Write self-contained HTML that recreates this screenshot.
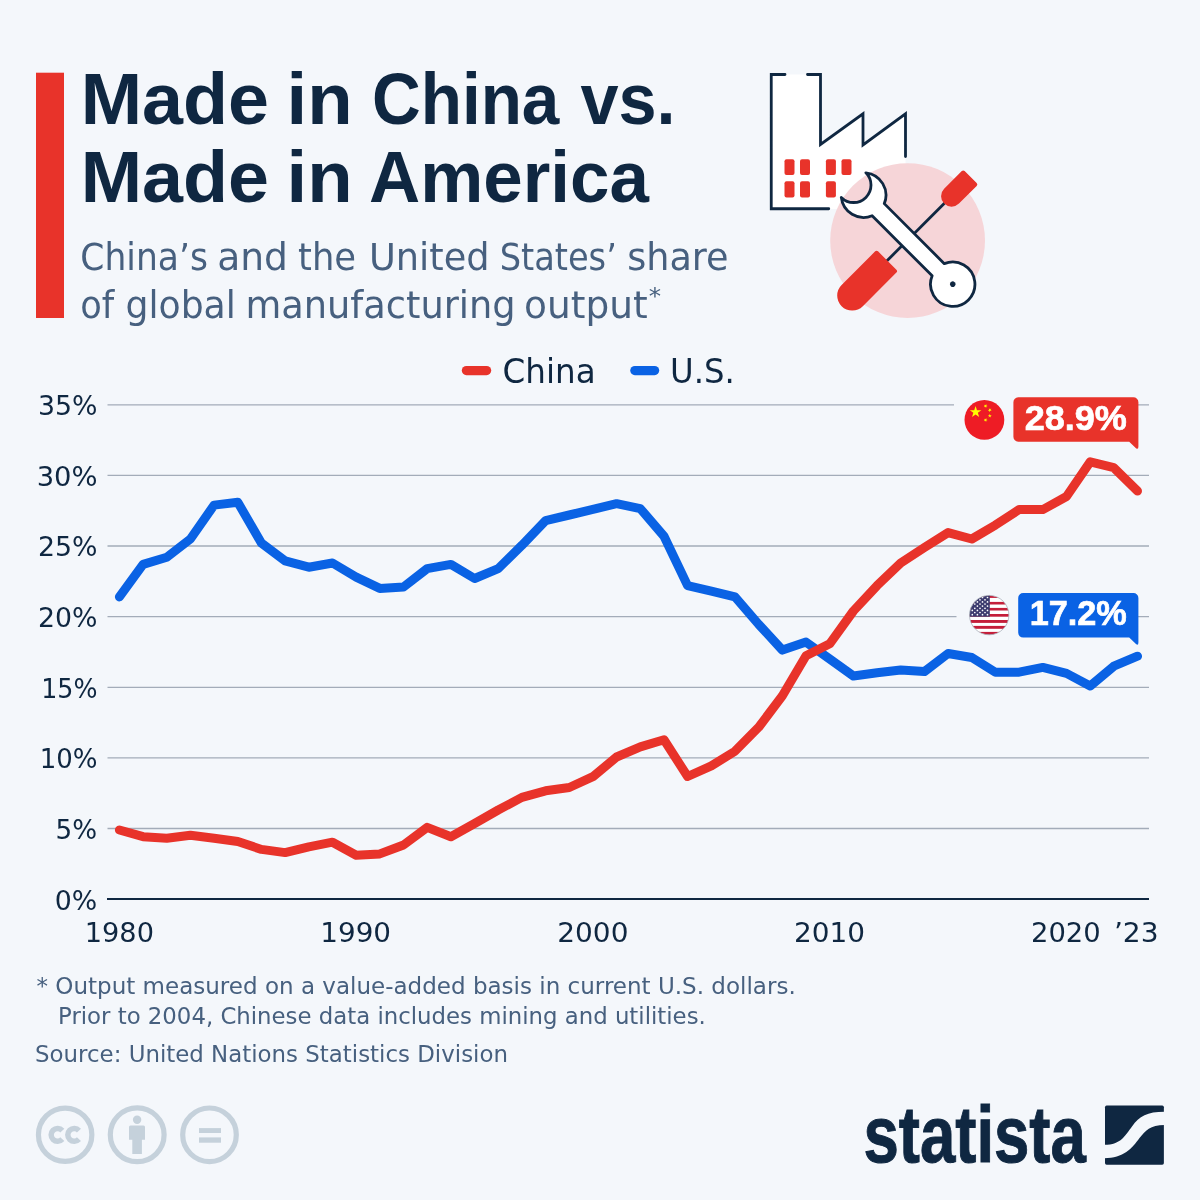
<!DOCTYPE html>
<html lang="en">
<head>
<meta charset="utf-8">
<title>Made in China vs. Made in America</title>
<style>
html,body{margin:0;padding:0;background:#f4f7fb;}
svg{display:block;font-family:"Liberation Sans", sans-serif;}
</style>
</head>
<body>
<svg width="1200" height="1200" viewBox="0 0 1200 1200">
<rect width="1200" height="1200" fill="#f4f7fb"/>
<rect x="36" y="72.7" width="28" height="245.3" fill="#e8332a"/>
<g stroke="#a3acb9" stroke-width="1.3" fill="none">
<path d="M107.5,404.8H954M1138,404.8H1149"/>
<path d="M107.5,475.4H1149"/>
<path d="M107.5,546.0H1149"/>
<path d="M107.5,616.7H956.5M1138,616.7H1149"/>
<path d="M107.5,687.3H1149"/>
<path d="M107.5,757.9H1149"/>
<path d="M107.5,828.5H1149"/>
</g>
<path d="M107,899.1H1149" stroke="#0f2741" stroke-width="2" fill="none"/>
<path d="M466.4,370.6h20.2" stroke="#e8332a" stroke-width="9.2" stroke-linecap="round"/>
<path d="M634.8,370.6h19.8" stroke="#0a62e4" stroke-width="9.2" stroke-linecap="round"/>
<path d="M119.4,596.9 L143.1,564.4 L166.8,557.3 L190.4,539.0 L214.1,505.1 L237.8,502.3 L261.5,543.2 L285.1,560.9 L308.8,567.2 L332.5,563.0 L356.2,577.1 L379.8,588.4 L403.5,587.0 L427.2,568.6 L450.9,564.4 L474.6,578.5 L498.2,568.6 L521.9,545.3 L545.6,520.6 L569.3,515.0 L592.9,509.3 L616.6,503.7 L640.3,508.6 L664.0,536.2 L687.6,585.6 L711.3,591.2 L735.0,596.9 L758.7,624.4 L782.4,650.1 L806.0,642.1 L829.7,659.0 L853.4,676.0 L877.1,672.7 L900.7,670.0 L924.4,671.6 L948.1,653.5 L971.8,657.5 L995.4,672.2 L1019.1,672.2 L1042.8,667.4 L1066.5,673.4 L1090.2,686.0 L1113.8,666.2 L1137.5,656.2" fill="none" stroke="#0a62e4" stroke-width="9" stroke-linecap="round" stroke-linejoin="round"/>
<path d="M119.4,830.0 L143.1,836.7 L166.8,838.2 L190.4,835.3 L214.1,838.2 L237.8,841.5 L261.5,849.4 L285.1,852.6 L308.8,846.8 L332.5,842.2 L356.2,855.3 L379.8,853.9 L403.5,845.0 L427.2,827.4 L450.9,836.7 L474.6,823.5 L498.2,810.0 L521.9,797.4 L545.6,790.8 L569.3,787.5 L592.9,776.7 L616.6,757.0 L640.3,746.9 L664.0,739.8 L687.6,776.5 L711.3,765.9 L735.0,751.2 L758.7,727.2 L782.4,695.7 L806.0,655.8 L829.7,643.8 L853.4,611.0 L877.1,585.6 L900.7,563.0 L924.4,547.6 L948.1,532.6 L971.8,539.0 L995.4,525.1 L1019.1,509.6 L1042.8,509.6 L1066.5,496.5 L1090.2,461.9 L1113.8,467.7 L1137.5,491.0" fill="none" stroke="#e8332a" stroke-width="9" stroke-linecap="round" stroke-linejoin="round"/>
<!-- header illustration: factory, tools -->
<g>
<path d="M771.25,74.5H820.5V144.5L863,113.75V145L905.5,113.75V209H771.25z" fill="#ffffff"/>
<circle cx="907.6" cy="240.6" r="77.4" fill="#f6d5d8"/>
<path d="M785,74.5H771.25V208.75H828.75M807.5,74.5H820.5V144.5L863,113.75V145L905.5,113.75V156.5" fill="none" stroke="#0f2741" stroke-width="2.8" stroke-linecap="round" stroke-linejoin="miter"/>
<g fill="#e8332a">
<rect x="784.5" y="159.3" width="10" height="15.6" rx="2"/><rect x="800" y="159.3" width="10" height="15.6" rx="2"/><rect x="825.9" y="159.3" width="10" height="15.6" rx="2"/><rect x="841.5" y="159.3" width="10" height="15.6" rx="2"/>
<rect x="784.5" y="181.2" width="10" height="16.2" rx="2"/><rect x="800" y="181.2" width="10" height="16.2" rx="2"/><rect x="825.9" y="181.2" width="10" height="16.2" rx="2"/>
</g>
<g transform="translate(841.6,306.15) rotate(-45)">
<path d="M60,0H150" stroke="#0f2741" stroke-width="2.8" fill="none"/>
<path d="M15,-15H62.5a2,2 0 0 1 2,2V13a2,2 0 0 1 -2,2H15a15,15 0 0 1 0,-30z" fill="#e8332a"/>
<path d="M155.5,-10.5H180.5a2,2 0 0 1 2,2V8.5a2,2 0 0 1 -2,2H155.5a10.5,10.5 0 0 1 0,-21z" fill="#e8332a"/>
</g>
<g transform="translate(863.5,195) rotate(45)">
<path d="M-14,-17.4A22.5,22.5 0 0 1 20.8,-8.6L105.7,-8.6A22.2,22.2 0 1 1 105.7,8.6L20.8,8.6A22.5,22.5 0 0 1 -14,17.4A17,17 0 0 0 -14,-17.4z" fill="#ffffff" stroke="#0f2741" stroke-width="2.8" stroke-linejoin="round"/>
<circle cx="126.2" cy="0" r="2.7" fill="#0f2741"/>
</g>
</g>
<!-- callouts -->
<path d="M1018.4,397.2H1133.4a5,5 0 0 1 5,5V446.6Q1138.4,450 1136,448.2L1129.2,441.7H1018.4a5,5 0 0 1 -5,-5V402.2a5,5 0 0 1 5,-5z" fill="#e8332a"/>
<path d="M1023.2,593H1133.4a5,5 0 0 1 5,5V642.5Q1138.4,645.9 1136,644.1L1129.2,637.6H1023.2a5,5 0 0 1 -5,-5V598a5,5 0 0 1 5,-5z" fill="#0a62e4"/>
<!-- flag: China -->
<g>
<circle cx="984.4" cy="419.85" r="19.9" fill="#ee1c25"/>
<g fill="#ffff00">
<path id="st" transform="translate(975.6,412.1) scale(6.1)" d="M0,-1L0.2245,-0.309L0.9511,-0.309L0.3633,0.118L0.5878,0.809L0,0.382L-0.5878,0.809L-0.3633,0.118L-0.9511,-0.309L-0.2245,-0.309z"/>
<path transform="translate(985.6,406) scale(2.1) rotate(20)" d="M0,-1L0.2245,-0.309L0.9511,-0.309L0.3633,0.118L0.5878,0.809L0,0.382L-0.5878,0.809L-0.3633,0.118L-0.9511,-0.309L-0.2245,-0.309z"/>
<path transform="translate(989.8,410.1) scale(2.1) rotate(45)" d="M0,-1L0.2245,-0.309L0.9511,-0.309L0.3633,0.118L0.5878,0.809L0,0.382L-0.5878,0.809L-0.3633,0.118L-0.9511,-0.309L-0.2245,-0.309z"/>
<path transform="translate(989.8,415.8) scale(2.1) rotate(0)" d="M0,-1L0.2245,-0.309L0.9511,-0.309L0.3633,0.118L0.5878,0.809L0,0.382L-0.5878,0.809L-0.3633,0.118L-0.9511,-0.309L-0.2245,-0.309z"/>
<path transform="translate(985.6,420) scale(2.1) rotate(20)" d="M0,-1L0.2245,-0.309L0.9511,-0.309L0.3633,0.118L0.5878,0.809L0,0.382L-0.5878,0.809L-0.3633,0.118L-0.9511,-0.309L-0.2245,-0.309z"/>
</g>
</g>
<!-- flag: U.S. -->
<g>
<clipPath id="usc"><circle cx="989.2" cy="615.1" r="19.7"/></clipPath>
<g clip-path="url(#usc)">
<rect x="968" y="594" width="43" height="43" fill="#ffffff"/>
<g fill="#c41e3a"><rect x="968" y="595.0" width="43" height="2.9"/><rect x="968" y="601.9" width="43" height="2.6"/><rect x="968" y="607.9" width="43" height="2.6"/><rect x="968" y="614.0" width="43" height="2.7"/><rect x="968" y="620.0" width="43" height="2.9"/><rect x="968" y="625.9" width="43" height="2.9"/><rect x="968" y="631.9" width="43" height="3.6"/></g>
<rect x="968" y="594" width="21.8" height="22.7" fill="#3c3b6e"/>
<g fill="#ffffff"><circle cx="982.5" cy="597.5" r="0.85"/><circle cx="987.5" cy="597.5" r="0.85"/><circle cx="980.0" cy="599.8" r="0.85"/><circle cx="985.0" cy="599.8" r="0.85"/><circle cx="977.4" cy="601.9" r="0.85"/><circle cx="982.5" cy="601.9" r="0.85"/><circle cx="987.5" cy="601.9" r="0.85"/><circle cx="974.8" cy="604.0" r="0.85"/><circle cx="980.0" cy="604.0" r="0.85"/><circle cx="985.0" cy="604.0" r="0.85"/><circle cx="977.4" cy="606.1" r="0.85"/><circle cx="982.5" cy="606.1" r="0.85"/><circle cx="987.5" cy="606.1" r="0.85"/><circle cx="974.8" cy="608.3" r="0.85"/><circle cx="980.0" cy="608.3" r="0.85"/><circle cx="985.0" cy="608.3" r="0.85"/><circle cx="972.3" cy="610.4" r="0.85"/><circle cx="977.4" cy="610.4" r="0.85"/><circle cx="982.5" cy="610.4" r="0.85"/><circle cx="987.5" cy="610.4" r="0.85"/><circle cx="974.8" cy="612.5" r="0.85"/><circle cx="980.0" cy="612.5" r="0.85"/><circle cx="985.0" cy="612.5" r="0.85"/><circle cx="972.3" cy="614.7" r="0.85"/><circle cx="977.4" cy="614.7" r="0.85"/><circle cx="982.5" cy="614.7" r="0.85"/><circle cx="987.5" cy="614.7" r="0.85"/></g>
</g>
<circle cx="989.2" cy="615.1" r="19.7" fill="none" stroke="#a9b3bd" stroke-width="0.8"/>
</g>
<!-- license icons -->
<g fill="none" stroke="#c5d1db" stroke-width="5.2">
<circle cx="65.15" cy="1134.75" r="26.7"/><circle cx="137.2" cy="1134.8" r="26.9"/><circle cx="209.5" cy="1134.8" r="26.8"/>
</g>
<g fill="none" stroke="#c5d1db" stroke-width="5.5">
<path d="M62.31,1130.57A6.4,6.4 0 1 0 62.31,1139.13"/><path d="M78.96,1130.57A6.4,6.4 0 1 0 78.96,1139.13"/>
</g>
<g fill="#c5d1db">
<circle cx="137.1" cy="1119.75" r="4.2"/><path d="M129,1127.1a1.5,1.5 0 0 1 1.5,-1.5h13a1.5,1.5 0 0 1 1.5,1.5V1139.75H141.9V1154H132.3V1139.75H129z"/>
<rect x="199" y="1128.1" width="22" height="4.9"/><rect x="199" y="1137.4" width="22" height="5.3"/>
</g>
<!-- statista mark -->
<g transform="translate(1090,1090) scale(0.075)">
<rect x="200" y="207" width="785" height="788" rx="22" fill="#0f2741"/>
<path d="M190,730C420,730 470,600 560,485C660,350 760,290 995,290L995,465C800,465 740,540 660,640C560,780 450,905 190,910z" fill="#f4f7fb"/>
</g>

<text y="124.20" font-family="'Liberation Sans', sans-serif" font-size="72.7" font-weight="700" fill="#0f2741"><tspan x="80.68" textLength="188.42" lengthAdjust="spacingAndGlyphs">Made</tspan> <tspan x="286.64" textLength="66.08" lengthAdjust="spacingAndGlyphs">in</tspan> <tspan x="372.02" textLength="187.31" lengthAdjust="spacingAndGlyphs">China</tspan> <tspan x="580.40" textLength="95.15" lengthAdjust="spacingAndGlyphs">vs.</tspan></text>
<text y="202.00" font-family="'Liberation Sans', sans-serif" font-size="72.7" font-weight="700" fill="#0f2741"><tspan x="80.68" textLength="188.42" lengthAdjust="spacingAndGlyphs">Made</tspan> <tspan x="286.64" textLength="66.08" lengthAdjust="spacingAndGlyphs">in</tspan> <tspan x="369.05" textLength="279.84" lengthAdjust="spacingAndGlyphs">America</tspan></text>
<text y="269.70" font-family="'DejaVu Sans', 'Liberation Sans', sans-serif" font-size="36.4" font-weight="400" fill="#47607f"><tspan x="80.35" textLength="127.55" lengthAdjust="spacingAndGlyphs">China’s</tspan> <tspan x="217.23" textLength="70.75" lengthAdjust="spacingAndGlyphs">and</tspan> <tspan x="298.03" textLength="58.06" lengthAdjust="spacingAndGlyphs">the</tspan> <tspan x="368.97" textLength="120.64" lengthAdjust="spacingAndGlyphs">United</tspan> <tspan x="499.65" textLength="117.19" lengthAdjust="spacingAndGlyphs">States’</tspan> <tspan x="627.19" textLength="101.39" lengthAdjust="spacingAndGlyphs">share</tspan></text>
<text y="317.70" font-family="'DejaVu Sans', 'Liberation Sans', sans-serif" font-size="36.4" font-weight="400" fill="#47607f"><tspan x="80.31" textLength="33.99" lengthAdjust="spacingAndGlyphs">of</tspan> <tspan x="125.51" textLength="110.35" lengthAdjust="spacingAndGlyphs">global</tspan> <tspan x="245.47" textLength="270.14" lengthAdjust="spacingAndGlyphs">manufacturing</tspan> <tspan x="524.14" textLength="123.52" lengthAdjust="spacingAndGlyphs">output</tspan> <tspan x="648.65" textLength="12.34" lengthAdjust="spacingAndGlyphs" font-size="23.5" dy="-13.3">*</tspan></text>
<text y="382.50" font-family="'DejaVu Sans', 'Liberation Sans', sans-serif" font-size="32.9" font-weight="400" fill="#0f2741"><tspan x="502.52" textLength="93.11" lengthAdjust="spacingAndGlyphs">China</tspan></text>
<text y="382.50" font-family="'DejaVu Sans', 'Liberation Sans', sans-serif" font-size="32.9" font-weight="400" fill="#0f2741"><tspan x="670.05" textLength="64.76" lengthAdjust="spacingAndGlyphs">U.S.</tspan></text>
<text y="415.00" font-family="'DejaVu Sans', 'Liberation Sans', sans-serif" font-size="27.4" font-weight="400" fill="#0f2741"><tspan x="38.05" textLength="59.50" lengthAdjust="spacingAndGlyphs">35%</tspan></text>
<text y="485.60" font-family="'DejaVu Sans', 'Liberation Sans', sans-serif" font-size="27.4" font-weight="400" fill="#0f2741"><tspan x="36.70" textLength="60.89" lengthAdjust="spacingAndGlyphs">30%</tspan></text>
<text y="556.20" font-family="'DejaVu Sans', 'Liberation Sans', sans-serif" font-size="27.4" font-weight="400" fill="#0f2741"><tspan x="38.05" textLength="59.50" lengthAdjust="spacingAndGlyphs">25%</tspan></text>
<text y="626.90" font-family="'DejaVu Sans', 'Liberation Sans', sans-serif" font-size="27.4" font-weight="400" fill="#0f2741"><tspan x="38.05" textLength="59.50" lengthAdjust="spacingAndGlyphs">20%</tspan></text>
<text y="697.50" font-family="'DejaVu Sans', 'Liberation Sans', sans-serif" font-size="27.4" font-weight="400" fill="#0f2741"><tspan x="41.23" textLength="56.22" lengthAdjust="spacingAndGlyphs">15%</tspan></text>
<text y="768.10" font-family="'DejaVu Sans', 'Liberation Sans', sans-serif" font-size="27.4" font-weight="400" fill="#0f2741"><tspan x="39.65" textLength="57.85" lengthAdjust="spacingAndGlyphs">10%</tspan></text>
<text y="838.70" font-family="'DejaVu Sans', 'Liberation Sans', sans-serif" font-size="27.4" font-weight="400" fill="#0f2741"><tspan x="55.59" textLength="41.51" lengthAdjust="spacingAndGlyphs">5%</tspan></text>
<text y="909.50" font-family="'DejaVu Sans', 'Liberation Sans', sans-serif" font-size="27.4" font-weight="400" fill="#0f2741"><tspan x="54.65" textLength="42.49" lengthAdjust="spacingAndGlyphs">0%</tspan></text>
<text y="941.90" font-family="'DejaVu Sans', 'Liberation Sans', sans-serif" font-size="27.4" font-weight="400" fill="#0f2741"><tspan x="84.77" textLength="69.18" lengthAdjust="spacingAndGlyphs">1980</tspan></text>
<text y="941.90" font-family="'DejaVu Sans', 'Liberation Sans', sans-serif" font-size="27.4" font-weight="400" fill="#0f2741"><tspan x="320.25" textLength="70.79" lengthAdjust="spacingAndGlyphs">1990</tspan></text>
<text y="941.90" font-family="'DejaVu Sans', 'Liberation Sans', sans-serif" font-size="27.4" font-weight="400" fill="#0f2741"><tspan x="557.26" textLength="71.20" lengthAdjust="spacingAndGlyphs">2000</tspan></text>
<text y="941.90" font-family="'DejaVu Sans', 'Liberation Sans', sans-serif" font-size="27.4" font-weight="400" fill="#0f2741"><tspan x="793.96" textLength="71.09" lengthAdjust="spacingAndGlyphs">2010</tspan></text>
<text y="941.90" font-family="'DejaVu Sans', 'Liberation Sans', sans-serif" font-size="27.4" font-weight="400" fill="#0f2741"><tspan x="1031.00" textLength="69.72" lengthAdjust="spacingAndGlyphs">2020</tspan></text>
<text y="941.90" font-family="'DejaVu Sans', 'Liberation Sans', sans-serif" font-size="27.4" font-weight="400" fill="#0f2741"><tspan x="1113.92" textLength="44.71" lengthAdjust="spacingAndGlyphs">’23</tspan></text>
<text y="993.50" font-family="'DejaVu Sans', 'Liberation Sans', sans-serif" font-size="23.3" font-weight="400" fill="#47607f"><tspan x="36.51" textLength="759.23" lengthAdjust="spacingAndGlyphs">* Output measured on a value-added basis in current U.S. dollars.</tspan></text>
<text y="1023.60" font-family="'DejaVu Sans', 'Liberation Sans', sans-serif" font-size="23.3" font-weight="400" fill="#47607f"><tspan x="58.04" textLength="647.74" lengthAdjust="spacingAndGlyphs">Prior to 2004, Chinese data includes mining and utilities.</tspan></text>
<text y="1061.70" font-family="'DejaVu Sans', 'Liberation Sans', sans-serif" font-size="23.3" font-weight="400" fill="#47607f"><tspan x="35.03" textLength="472.92" lengthAdjust="spacingAndGlyphs">Source: United Nations Statistics Division</tspan></text>
<text y="429.70" font-family="'Liberation Sans', sans-serif" font-size="35.8" font-weight="700" fill="#ffffff" stroke="#ffffff" stroke-width="0.7"><tspan x="1024.69" textLength="102.12" lengthAdjust="spacingAndGlyphs">28.9%</tspan></text>
<text y="625.20" font-family="'Liberation Sans', sans-serif" font-size="35.8" font-weight="700" fill="#ffffff" stroke="#ffffff" stroke-width="0.7"><tspan x="1029.69" textLength="97.11" lengthAdjust="spacingAndGlyphs">17.2%</tspan></text>
<text y="1161.50" font-family="'Liberation Sans', sans-serif" font-size="79" font-weight="700" fill="#0f2741" stroke="#0f2741" stroke-width="1" stroke-linejoin="miter"><tspan x="863.39" textLength="222.50" lengthAdjust="spacingAndGlyphs">statista</tspan></text>
</svg>
</body>
</html>
